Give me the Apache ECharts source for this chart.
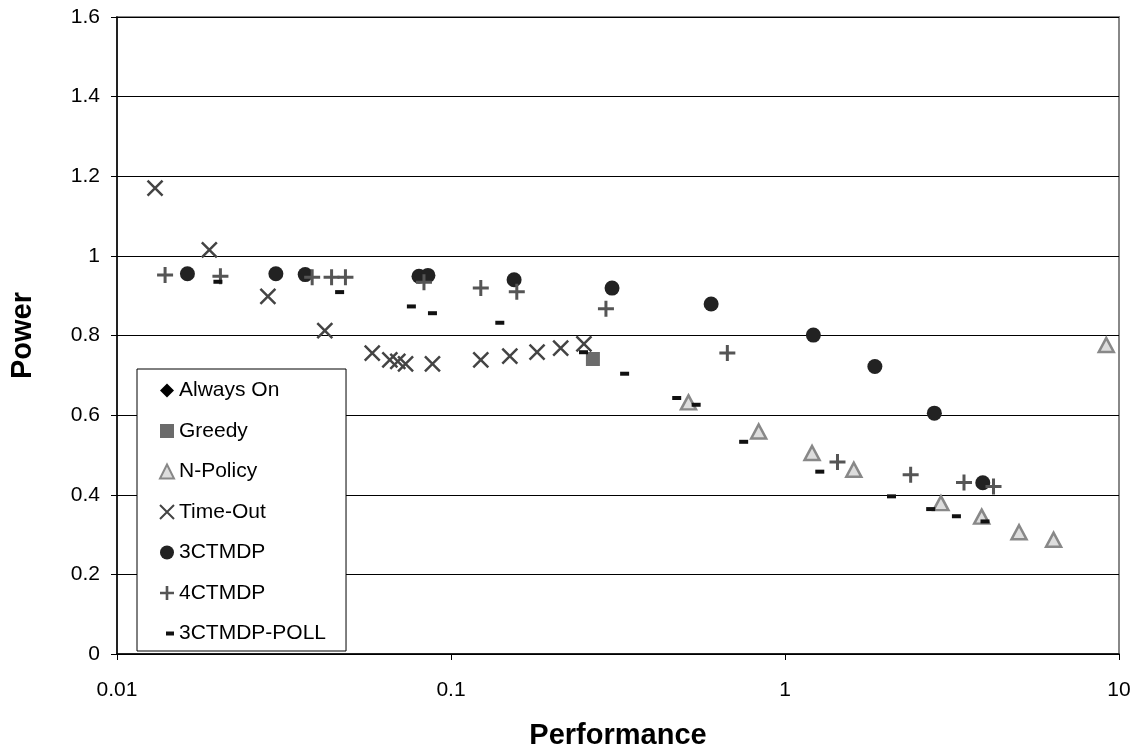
<!DOCTYPE html>
<html>
<head>
<meta charset="utf-8">
<script src="https://cdn.jsdelivr.net/npm/echarts@6/dist/echarts.min.js"></script>
<style>
    html, body { margin: 0; padding: 0; background: #fff; }
    #chart { width: 1138px; height: 750px; }
</style>
</head>
<body>
<div id="chart"></div>
<script>
// 数据：[Performance, Power]
var alwaysOn = [];
var greedy = [[0.266, 0.741]];
var nPolicy = [
    [0.514, 0.632], [0.834, 0.559], [1.205, 0.505], [1.607, 0.463], [2.93, 0.379],
    [3.88, 0.345], [5.02, 0.306], [6.37, 0.287], [9.16, 0.776]
];
var timeOut = [
    [0.0130, 1.170], [0.0189, 1.015], [0.0283, 0.898], [0.0419, 0.812], [0.0581, 0.756],
    [0.0656, 0.739], [0.0693, 0.735], [0.0731, 0.729], [0.0880, 0.729], [0.1228, 0.739],
    [0.150, 0.748], [0.181, 0.758], [0.213, 0.768], [0.250, 0.779]
];
var ctmdp3 = [
    [0.01625, 0.955], [0.0299, 0.955], [0.0366, 0.953], [0.0802, 0.949], [0.0853, 0.951],
    [0.1545, 0.940], [0.3035, 0.919], [0.601, 0.879], [1.216, 0.801], [1.858, 0.722],
    [2.80, 0.605], [3.91, 0.430]
];
var ctmdp4 = [
    [0.01393, 0.952], [0.0204, 0.949], [0.0384, 0.946], [0.0439, 0.946], [0.0483, 0.946],
    [0.0830, 0.934], [0.1228, 0.919], [0.1574, 0.910], [0.291, 0.867], [0.672, 0.756],
    [1.436, 0.482], [2.378, 0.450], [3.435, 0.431], [4.21, 0.421]
];
var ctmdp3Poll = [
    [0.02005, 0.935], [0.0464, 0.909], [0.0761, 0.873], [0.0880, 0.856], [0.140, 0.832],
    [0.2493, 0.758], [0.331, 0.704], [0.474, 0.643], [0.542, 0.626], [0.752, 0.533],
    [1.271, 0.458], [2.084, 0.396], [2.73, 0.364], [3.26, 0.346], [3.97, 0.333]
];
var xTicks = [0.01, 0.1, 1, 10];

var font = "'Liberation Sans', Arial, sans-serif";
var crossPath = 'path://M0,0L16,16M16,0L0,16';
var plusPath = 'path://M0,6.5h16v3h-16zM6.5,0h3v16h-3z';
var dashIcon = 'path://M0,0L0,0M14,14L14,14M6,5h8v4h-8z';

var chart = echarts.init(document.getElementById('chart'));
var option = {
    animation: false,
    backgroundColor: '#fff',
    grid: {
        left: 117,
        right: 19,
        top: 17,
        bottom: 96,
        outerBoundsMode: 'none',
        show: true,
        borderColor: '#888',
        borderWidth: 2
    },
    legend: {
        orient: 'vertical',
        left: 137,
        top: 369,
        padding: [11, 20, 7, 22],
        itemWidth: 14,
        itemHeight: 14,
        itemGap: 19.5,
        backgroundColor: '#fff',
        borderColor: '#000',
        borderWidth: 1,
        borderRadius: 0,
        textStyle: { fontFamily: font, fontSize: 21, color: '#000' },
        data: [
            'Always On', 'Greedy', 'N-Policy', 'Time-Out', '3CTMDP', '4CTMDP',
            { name: '3CTMDP-POLL', icon: dashIcon }
        ]
    },
    xAxis: {
        type: 'log',
        logBase: 10,
        min: 0.01,
        max: 10,
        name: 'Performance',
        nameLocation: 'middle',
        nameGap: 67,
        nameTextStyle: { fontFamily: font, fontSize: 29, fontWeight: 'bold', color: '#000' },
        axisLine: { lineStyle: { color: '#000', width: 1.5 } },
        axisTick: { show: true, length: 6, lineStyle: { color: '#000' } },
        minorTick: { show: false },
        splitLine: { show: false },
        axisLabel: {
            fontFamily: font, fontSize: 21, color: '#000', margin: 26,
            formatter: function (v) {
                for (var i = 0; i < xTicks.length; i++) {
                    if (Math.abs(v - xTicks[i]) < xTicks[i] * 1e-6) return String(xTicks[i]);
                }
                return '';
            }
        }
    },
    yAxis: {
        type: 'value',
        min: 0,
        max: 1.6,
        interval: 0.2,
        name: 'Power',
        nameLocation: 'middle',
        nameGap: 80,
        nameTextStyle: { fontFamily: font, fontSize: 29, fontWeight: 'bold', color: '#000' },
        axisLine: { show: true, lineStyle: { color: '#000', width: 1.5 } },
        axisTick: { show: true, length: 6, lineStyle: { color: '#000' } },
        splitLine: { show: true, lineStyle: { color: '#000', width: 1 } },
        axisLabel: { fontFamily: font, fontSize: 21, color: '#000', margin: 17 }
    },
    series: [
        {
            name: 'Always On', type: 'scatter', symbol: 'diamond', symbolSize: 14,
            itemStyle: { color: '#000', opacity: 1 }, data: alwaysOn
        },
        {
            name: 'Greedy', type: 'scatter', symbol: 'rect', symbolSize: 14,
            itemStyle: { color: '#6b6b6b', opacity: 1 }, data: greedy
        },
        {
            name: 'N-Policy', type: 'scatter', symbol: 'triangle', symbolSize: [15, 14],
            itemStyle: { color: '#ddd', borderColor: '#888', borderWidth: 2.5, opacity: 1 },
            data: nPolicy
        },
        {
            name: 'Time-Out', type: 'scatter', symbol: crossPath, symbolSize: 15,
            itemStyle: { color: '#444', borderColor: '#444', borderWidth: 2.5, opacity: 1 },
            data: timeOut
        },
        {
            name: '3CTMDP', type: 'scatter', symbol: 'circle', symbolSize: 15,
            itemStyle: { color: '#222', opacity: 1 }, data: ctmdp3
        },
        {
            name: '4CTMDP', type: 'scatter', symbol: plusPath, symbolSize: 16,
            itemStyle: { color: '#555', opacity: 1 }, data: ctmdp4
        },
        {
            name: '3CTMDP-POLL', type: 'scatter', symbol: 'rect', symbolSize: [9, 4],
            itemStyle: { color: '#111', opacity: 1 }, data: ctmdp3Poll
        }
    ]
};
chart.setOption(option);
</script>
</body>
</html>
